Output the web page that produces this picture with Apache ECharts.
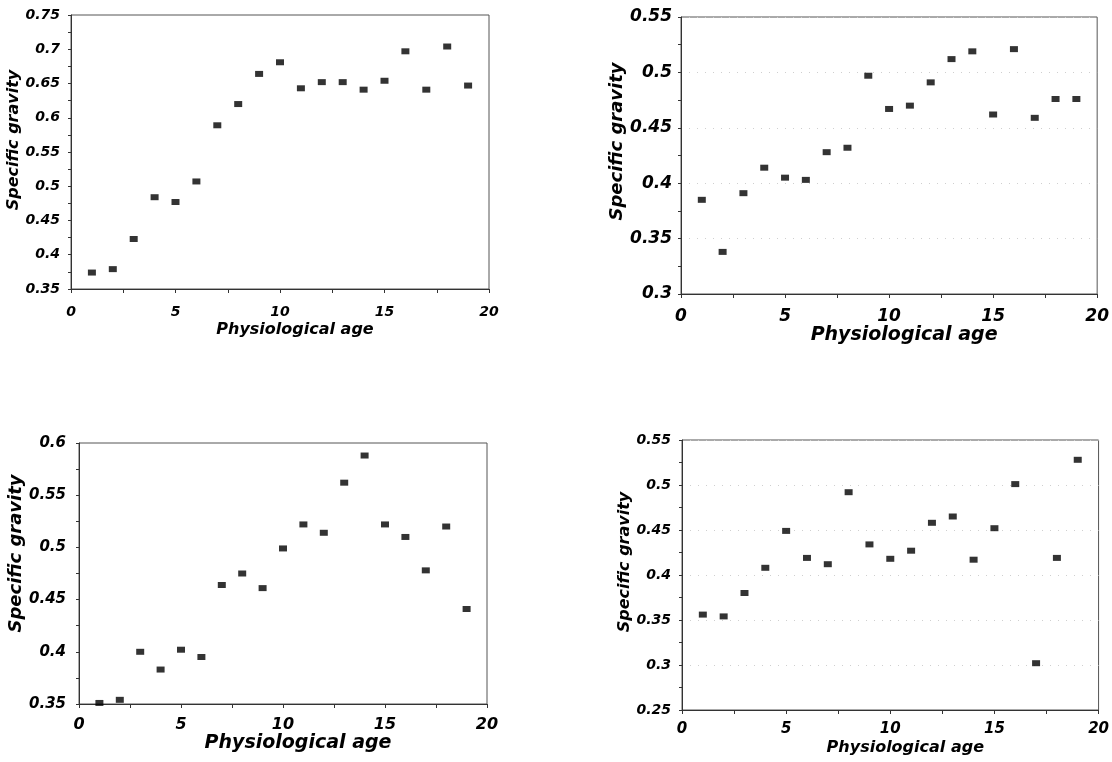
<!DOCTYPE html>
<html>
<head>
<meta charset="utf-8">
<script src="https://cdn.jsdelivr.net/npm/echarts@6/dist/echarts.min.js"></script>
<style>html,body{margin:0;padding:0;background:#fff;}#c{width:1112px;height:762px;}</style>
</head>
<body>
<div id="c"></div>
<script>
const ages = [1,2,3,4,5,6,7,8,9,10,11,12,13,14,15,16,17,18,19];
const sgA = [0.374,0.379,0.423,0.484,0.477,0.507,0.589,0.620,0.664,0.681,0.643,0.652,0.652,0.641,0.654,0.697,0.641,0.704,0.647];
const sgB = [0.385,0.338,0.391,0.414,0.405,0.403,0.428,0.432,0.497,0.467,0.470,0.491,0.512,0.519,0.462,0.521,0.459,0.476,0.476];
const sgC = [0.351,0.354,0.400,0.383,0.402,0.395,0.464,0.475,0.461,0.499,0.522,0.514,0.562,0.588,0.522,0.510,0.478,0.520,0.441];
const sgD = [0.356,0.354,0.380,0.408,0.449,0.419,0.412,0.492,0.434,0.418,0.427,0.458,0.465,0.417,0.452,0.501,0.302,0.419,0.528];
const xTitle = 'Physiological age';
const yTitle = 'Specific gravity';
const yRanges = [[0.35,0.75],[0.3,0.55],[0.35,0.6],[0.25,0.55]];

const FONT = '"DejaVu Sans", "Liberation Sans", sans-serif';
const panels = [
  {data: sgA, grid:{left:71, top:15, width:418, height:274}, yl:14, xl:14, tl:16, ytl:16, ylm:11, xlm:16, xg:33, yg:45, ypad:24, dots:false},
  {data: sgB, grid:{left:681, top:17, width:421, height:277}, yl:17, xl:17, tl:19, ytl:18, ylm:9, xlm:14, xg:29, yg:52, ypad:28, dots:true},
  {data: sgC, grid:{left:79, top:443, width:408, height:261}, yl:15, xl:16, tl:19, ytl:18, ylm:13, xlm:13, xg:29, yg:52, ypad:40, dots:false},
  {data: sgD, grid:{left:682, top:440, width:419, height:270}, yl:14, xl:15, tl:16, ytl:16, ylm:11, xlm:12, xg:30, yg:42, ypad:26, dots:true}
];

const chart = echarts.init(document.getElementById('c'), null, {renderer:'canvas'});
const grids=[], xAxes=[], yAxes=[], series=[];
panels.forEach((p,i)=>{
  grids.push(Object.assign({show:true, borderColor:'#555', borderWidth:1, backgroundColor:'#fff'}, p.grid));
  const lineStyle = {color:'#333', width:1};
  xAxes.push({
    gridIndex:i, type:'value', min:0, max:20, interval:5,
    name:xTitle, nameLocation:'middle', nameGap:p.xg,
    nameTextStyle:{fontFamily:FONT, fontWeight:'bold', fontStyle:'italic', fontSize:p.tl, color:'#000', padding:[0,0,0,30]},
    axisLine:{show:true, lineStyle}, axisTick:{show:true, inside:false, length:4, lineStyle},
    minorTick:{show:true, splitNumber:2, length:4, lineStyle},
    axisLabel:{fontFamily:FONT, fontWeight:'bold', fontStyle:'italic', fontSize:p.xl, color:'#000', margin:p.xlm},
    splitLine:{show:false}
  });
  yAxes.push({
    gridIndex:i, type:'value', min:yRanges[i][0], max:yRanges[i][1], interval:0.05,
    name:yTitle, nameLocation:'middle', nameGap:p.yg, nameRotate:90,
    nameTextStyle:{fontFamily:FONT, fontWeight:'bold', fontStyle:'italic', fontSize:p.ytl, color:'#000', padding:[0,0,0,p.ypad]},
    axisLine:{show:true, lineStyle}, axisTick:{show:true, inside:false, length:3, lineStyle},
    minorTick:{show:true, splitNumber:2, length:3, lineStyle},
    axisLabel:{fontFamily:FONT, fontWeight:'bold', fontStyle:'italic', fontSize:p.yl, color:'#000', margin:p.ylm,
      formatter:v=>String(parseFloat(v.toFixed(3)))},
    splitLine:{show:p.dots, lineStyle:{color:'#cfcfcf', type:[1,7], width:1}}
  });
  series.push({
    type:'scatter', xAxisIndex:i, yAxisIndex:i,
    data: ages.map((a,k)=>[a,p.data[k]]),
    symbol:'rect', symbolSize:[8,6],
    itemStyle:{color:'#000'}
  });
});

chart.setOption({animation:false, grid:grids, xAxis:xAxes, yAxis:yAxes, series});
</script>
</body>
</html>
